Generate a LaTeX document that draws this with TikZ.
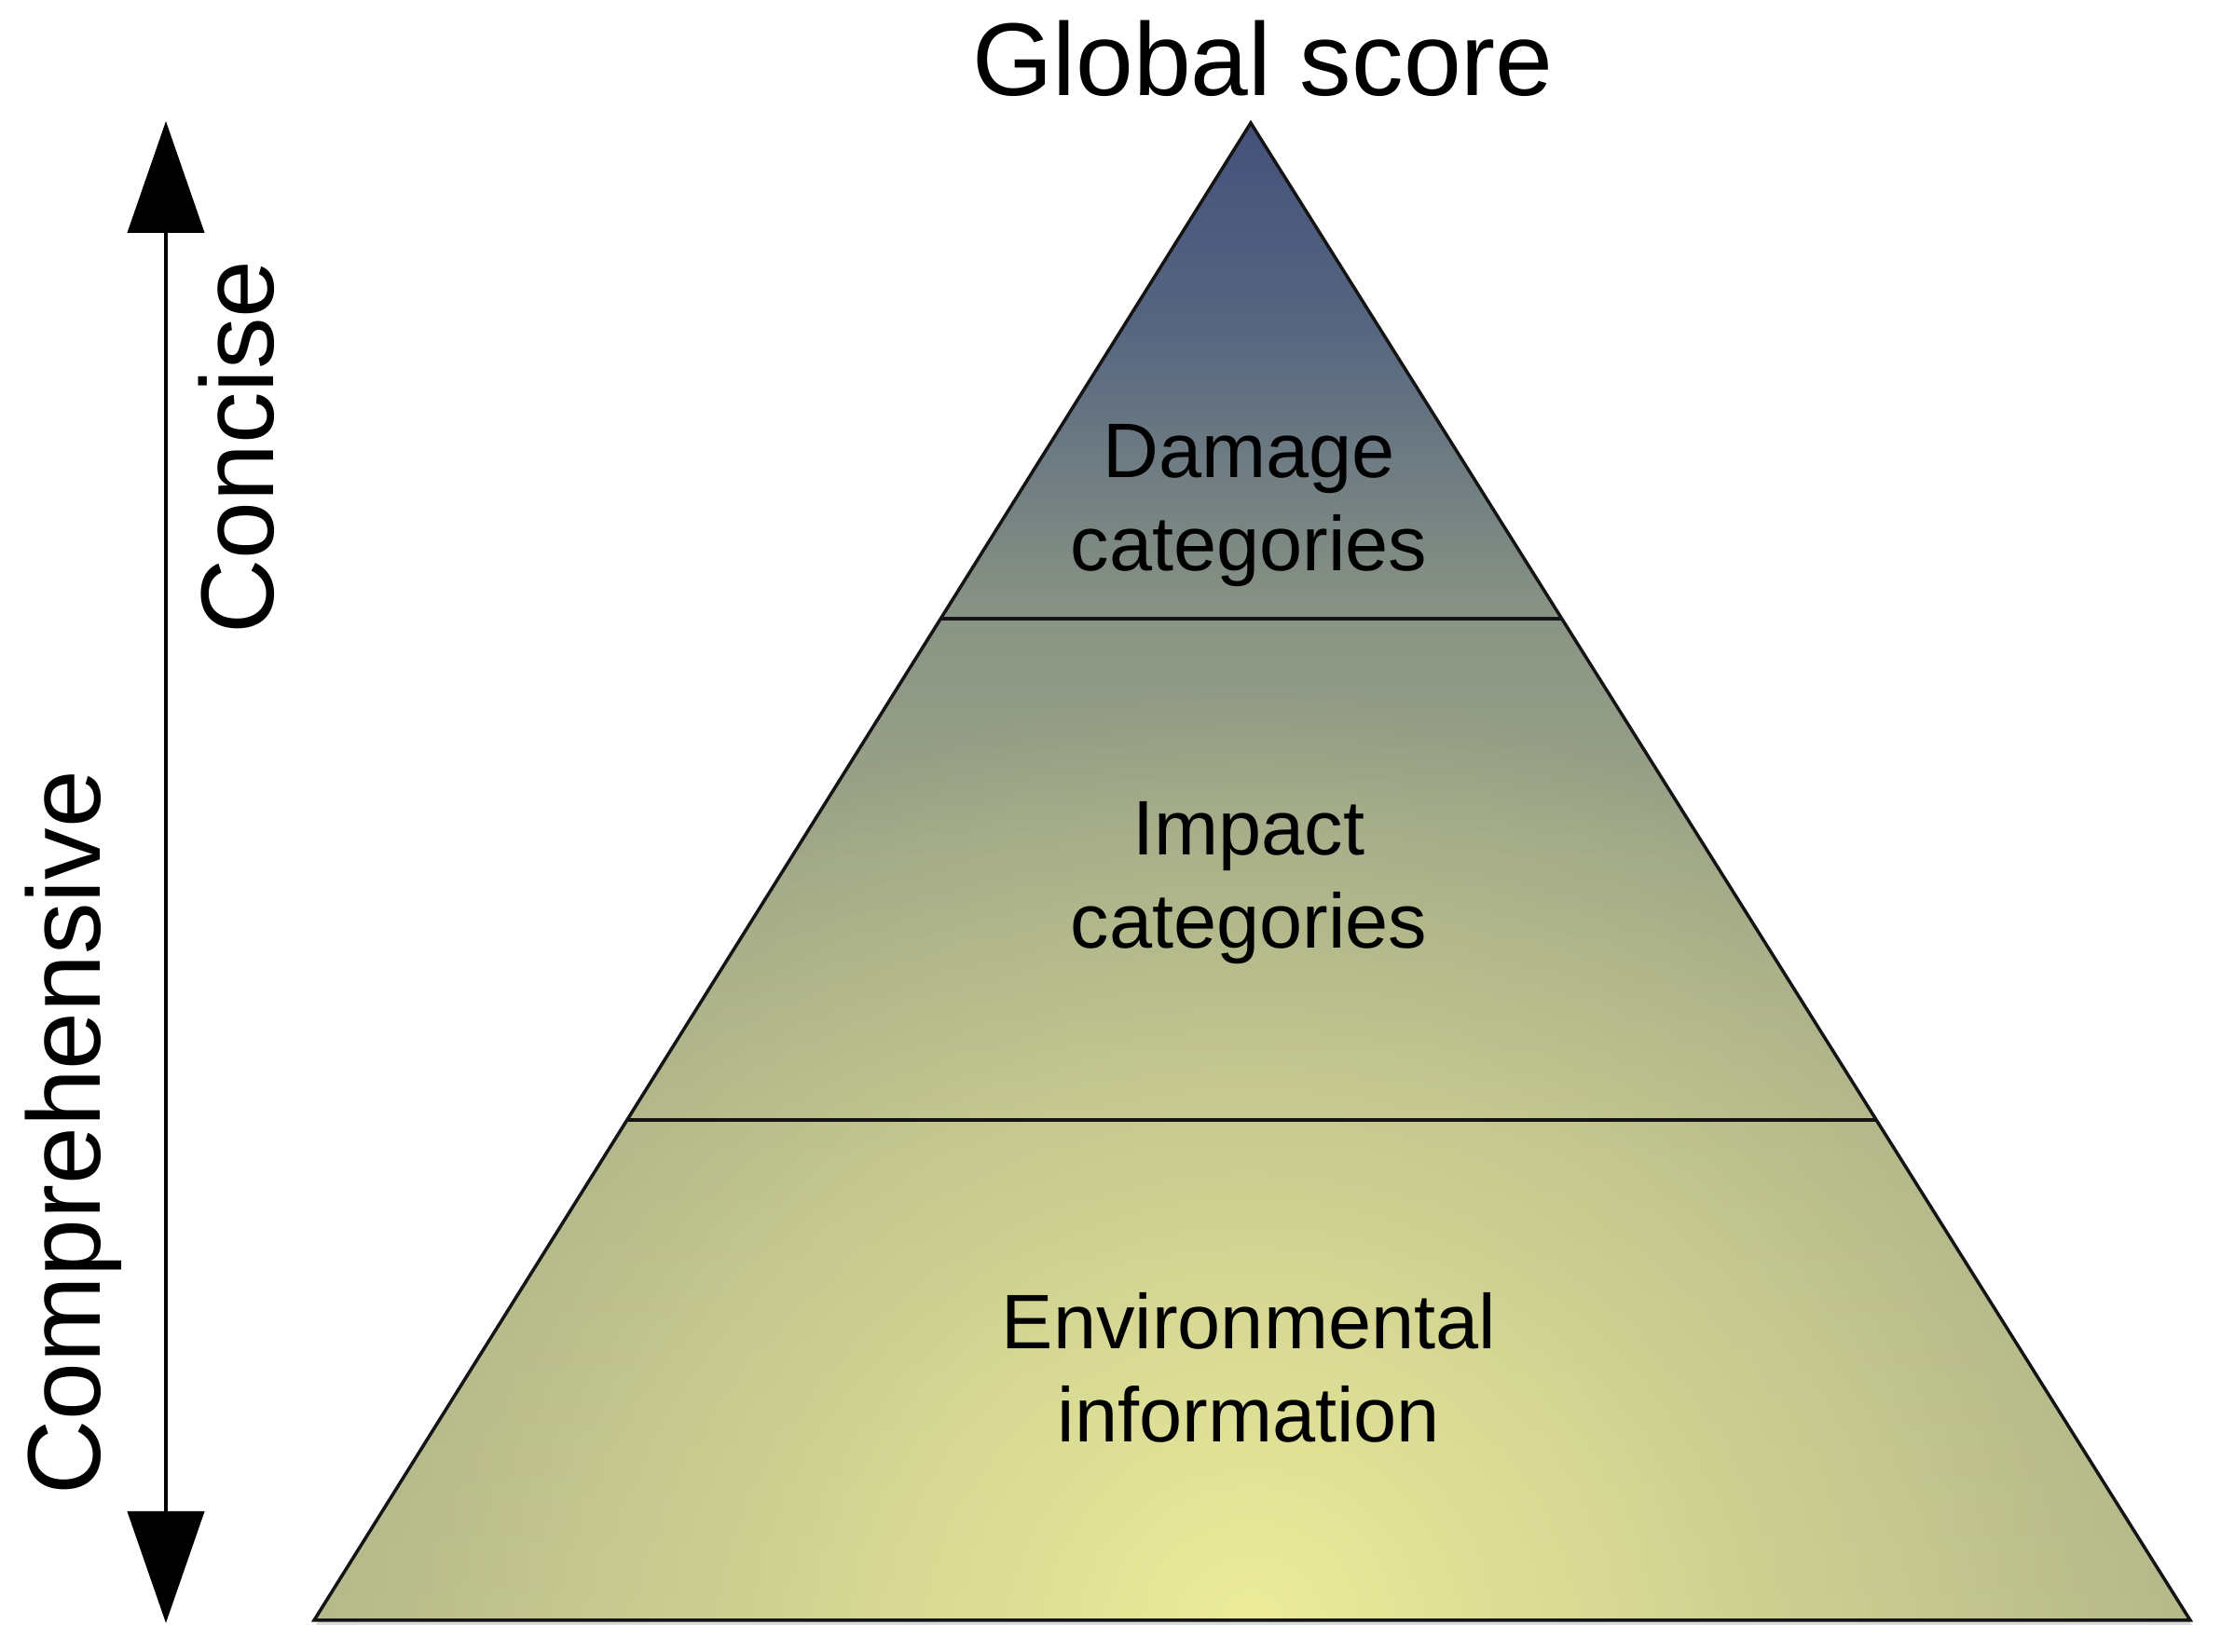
\documentclass[tikz,border=0pt]{standalone}
\usepackage{fontspec}
\setmainfont{Liberation Sans}
\usetikzlibrary{arrows.meta,calc,fadings}
\definecolor{c0}{HTML}{43517A}
\definecolor{c1}{HTML}{566680}
\definecolor{c2}{HTML}{8A9484}
\definecolor{c3}{HTML}{9CA487}
\definecolor{c4}{HTML}{A9AE88}
\definecolor{c5}{HTML}{B3B78A}
\definecolor{glowcol}{HTML}{ECEC9A}
\pgfdeclareverticalshading{pyramidshade}{100bp}{color(0bp)=(c5); color(25bp)=(c5); color(41.7bp)=(c4); color(51.1bp)=(c3); color(58.4bp)=(c2); color(68.2bp)=(c1); color(75bp)=(c0); color(100bp)=(c0)}
\tikzfading[name=glowfade, inner color=transparent!0, outer color=transparent!100]
\begin{document}
\begin{tikzpicture}[
  titletext/.style={font=\fontsize{31.6}{38}\selectfont, inner sep=0pt},
  sidetext/.style={font=\fontsize{31.6}{38}\selectfont, inner sep=0pt, rotate=90, anchor=base},
  layertext/.style={font=\fontsize{23.6}{28.45}\selectfont, inner sep=0pt, align=center},
  outline/.style={draw=black!92, line width=1pt, line join=miter},
  divider/.style={draw=black!92, line width=1pt},
  scalearrow/.style={draw=black, line width=1.2pt, {Triangle[width=0.82cm,length=1.2cm]}-{Triangle[width=0.82cm,length=1.2cm]}}
]
\useasboundingbox (0,0) rectangle (23.83,17.73);
\coordinate (apex) at (13.42,16.41);
\coordinate (bl) at (3.37,0.34);
\coordinate (br) at (23.50,0.34);
\coordinate (bc) at (13.42,0.34);
% shadow
\fill[black!14] ($(bl)+(0.02,-0.05)$) -- ($(br)+(0.02,-0.05)$) -- ($(apex)+(0.02,-0.05)$) -- cycle;
% body
\shade[shading=pyramidshade] (apex) -- (bl) -- (br) -- cycle;
\begin{scope}
  \clip (apex) -- (bl) -- (br) -- cycle;
  \fill[glowcol, path fading=glowfade] (bc) ellipse [x radius=10.5, y radius=10];
\end{scope}
\draw[outline] (apex) -- (bl) -- (br) -- cycle;
\coordinate (l1a) at ($(apex)!0.3311!(bl)$);
\coordinate (l1b) at ($(apex)!0.3311!(br)$);
\coordinate (l2a) at ($(apex)!0.6658!(bl)$);
\coordinate (l2b) at ($(apex)!0.6658!(br)$);
\draw[divider] (l1a) -- (l1b);
\draw[divider] (l2a) -- (l2b);
% labels
\node[titletext, anchor=base] (gs) at (13.55,16.70) {Global score};
\node[layertext] (dmg) at (13.40,12.30) {\strut Damage\\\strut categories};
\node[layertext] (imp) at (13.40,8.25) {\strut Impact\\\strut categories};
\node[layertext] (env) at (13.40,2.95) {\strut Environmental\\\strut information};
% scale arrow
\coordinate (atop) at (1.78,16.43);
\coordinate (abot) at (1.78,0.31);
\draw[scalearrow] (atop) -- (abot);
\node[sidetext] (conc) at (2.93,12.93) {Concise};
\node[sidetext] (comp) at (1.07,5.57) {Comprehensive};
\end{tikzpicture}
\end{document}
